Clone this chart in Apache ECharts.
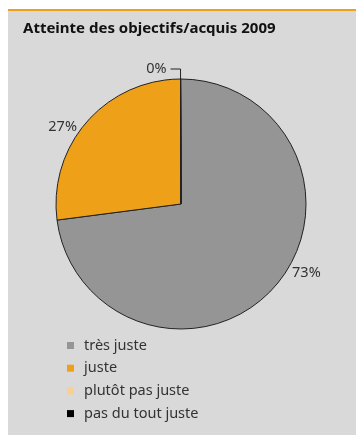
<!DOCTYPE html>
<html>
<head>
<meta charset="utf-8">
<script src="https://cdn.jsdelivr.net/npm/echarts@6/dist/echarts.min.js"></script>
<style>
	html, body { margin: 0; padding: 0; background: #fff; }
	#chart { width: 356px; height: 435px; }
</style>
</head>
<body>
<div id="chart"></div>
<script>
let chart_title = 'Atteinte des objectifs/acquis 2009';
let categories = ['très juste', 'juste', 'plutôt pas juste', 'pas du tout juste'];
let values = [73, 27, 0, 0]; // pourcentages
let colors = ['#959595', '#efa019', '#fbcf8e', '#000000'];
// décalage des étiquettes (dx, dy) par part
let label_shift = [[13, -13], [-6, 5], [0, 0], [0, 0]];

let chart = echarts.init(document.getElementById('chart'));

let pie_data = [];
for (let i = 0; i < categories.length; i++) {
	let item = {
		name: categories[i],
		value: values[i],
		itemStyle: { color: colors[i] },
		labelLine: { show: false, length: 0, length2: 0 },
	};
	if (i === 2) {
		// la part à 0% garde son trait de rappel
		item.labelLine = { show: true, length: 10, length2: 10, lineStyle: { color: '#222', width: 1 } };
	}
	if (i === 3) {
		item.label = { show: false };
	}
	pie_data.push(item);
}

let option = {
	animation: false,
	graphic: [
		{ type: 'rect', shape: { x: 8, y: 9, width: 348, height: 426 }, style: { fill: '#d9d9d9' }, z: -10 },
		{ type: 'rect', shape: { x: 8, y: 9, width: 348, height: 2 }, style: { fill: '#efa019' }, z: -9 },
	],
	title: {
		text: chart_title,
		left: 18,
		top: 16,
		textStyle: {
			fontFamily: 'Noto Sans',
			fontWeight: 'bold',
			fontSize: 15,
			color: '#111',
		},
	},
	legend: {
		orient: 'vertical',
		left: 62,
		top: 333,
		itemWidth: 7,
		itemHeight: 7,
		itemGap: 7.7,
		icon: 'rect',
		itemStyle: { borderWidth: 0 },
		data: categories,
		textStyle: {
			fontFamily: 'Noto Sans',
			fontSize: 14.5,
			color: '#333',
			padding: [0, 0, 0, 5],
		},
	},
	series: [
		{
			type: 'pie',
			center: [181, 204],
			radius: 125,
			startAngle: 90.2,
			clockwise: true,
			avoidLabelOverlap: false,
			itemStyle: {
				borderColor: '#222',
				borderWidth: 1,
			},
			emphasis: { disabled: true },
			label: {
				show: true,
				position: 'outside',
				formatter: '{c}%',
				fontFamily: 'Noto Sans',
				fontSize: 14.5,
				color: '#333',
				distanceToLabelLine: 4,
			},
			labelLayout: (params) => {
				let s = label_shift[params.dataIndex];
				return { dx: s[0], dy: s[1] };
			},
			data: pie_data,
		},
	],
};
chart.setOption(option);
</script>
</body>
</html>
